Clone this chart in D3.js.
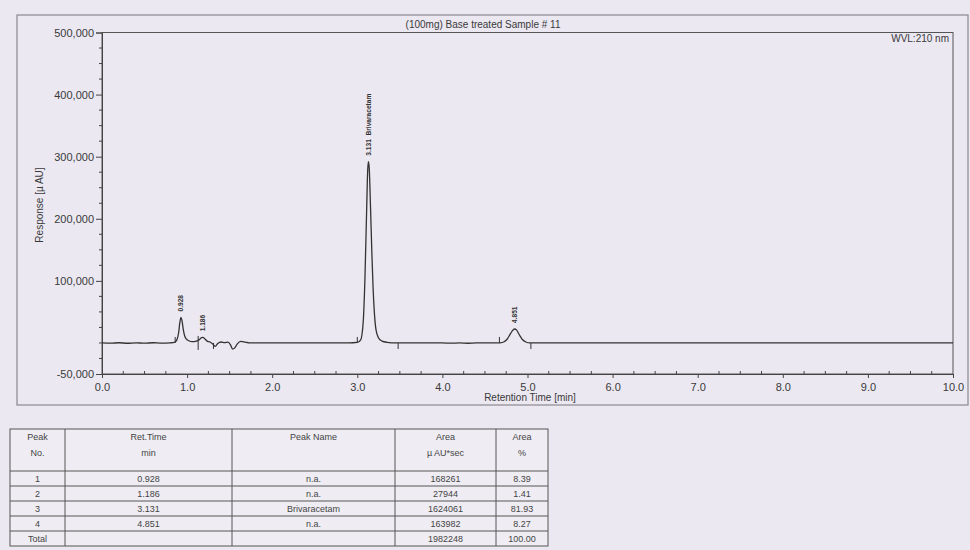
<!DOCTYPE html>
<html>
<head>
<meta charset="utf-8">
<script src="https://cdn.jsdelivr.net/npm/d3@7"></script>
<style>
  body { margin: 0; background: #ebe8f1; }
  svg { display: block; font-family: "Liberation Sans", Arial, sans-serif; }
</style>
</head>
<body>
<script>
// chromatogram trace: [retention time (min), response (uAU)]
var trace = [
  [0.00, 0], [0.10, -400], [0.20, 300], [0.30, -500], [0.40, 200], [0.50, -400],
  [0.60, 300], [0.70, -300], [0.80, 200], [0.85, 800], [0.88, 5000], [0.90, 16000],
  [0.915, 33000], [0.928, 41000], [0.94, 36000], [0.955, 22000], [0.97, 12000],
  [0.99, 6500], [1.02, 3500], [1.06, 2000], [1.10, 2500], [1.14, 5000], [1.17, 8500],
  [1.186, 9000], [1.21, 6500], [1.24, 2500], [1.27, 1500], [1.30, -1500], [1.33, -5500],
  [1.36, -1000], [1.40, 1500], [1.44, 500], [1.48, 1200], [1.51, -3000], [1.535, -10000],
  [1.56, -8000], [1.59, -1500], [1.63, 2500], [1.68, 1500], [1.73, 0], [2.00, 0],
  [2.50, 0], [2.90, 0], [3.00, 800], [3.04, 5000], [3.07, 35000], [3.09, 105000],
  [3.11, 215000], [3.122, 278000], [3.131, 292000], [3.14, 282000], [3.155, 220000],
  [3.17, 150000], [3.185, 90000], [3.20, 50000], [3.22, 21000], [3.25, 8000],
  [3.29, 3000], [3.35, 1000], [3.45, 0], [4.00, 0], [4.10, -400], [4.20, 0],
  [4.30, -500], [4.40, 0], [4.60, 0], [4.68, 200], [4.72, 1500], [4.76, 6000],
  [4.80, 15000], [4.83, 21000], [4.851, 22500], [4.87, 21000], [4.90, 14000],
  [4.94, 5500], [4.98, 1500], [5.03, 0], [6.00, 0], [8.00, 0], [10.00, 0]
];

// integrated peaks (label positions)
var peakTimes = [0.928, 1.186, 3.131, 4.851];
var peakHeights = [41000, 9000, 292000, 22500];
var peakLabels = ["0.928", "1.186", "3.131  Brivaracetam", "4.851"];

// integration delimiter marks: time, +1 up / -1 down, 0 crossing
var delimTimes = [0.86, 1.13, 1.31, 3.00, 3.48, 4.67, 5.04];
var delimDirs = [1, 0, -1, 1, -1, 1, -1];

var yTicks = [-50000, 100000, 200000, 300000, 400000, 500000];
var xTicks = [0, 1, 2, 3, 4, 5, 6, 7, 8, 9, 10];

// results table
var tableHead1 = ["Peak", "Ret.Time", "Peak Name", "Area", "Area"];
var tableHead2 = ["No.", "min", "", "\u00b5 AU*sec", "%"];
var peakNo = ["1", "2", "3", "4", "Total"];
var retTime = ["0.928", "1.186", "3.131", "4.851", ""];
var peakName = ["n.a.", "n.a.", "Brivaracetam", "n.a.", ""];
var area = ["168261", "27944", "1624061", "163982", "1982248"];
var areaPct = ["8.39", "1.41", "81.93", "8.27", "100.00"];

var W = 970, H = 550;
var ink = "#3a3a3a";

var svg = d3.select("body").append("svg")
    .attr("width", W)
    .attr("height", H);

svg.append("rect").attr("width", W).attr("height", H).attr("fill", "#ebe8f1");

// outer frame of the report block
svg.append("rect")
    .attr("x", 17).attr("y", 15)
    .attr("width", 951).attr("height", 390)
    .attr("fill", "none").attr("stroke", "#8a8790").attr("stroke-width", 1.2);

svg.append("text")
    .attr("x", 483).attr("y", 28)
    .attr("text-anchor", "middle")
    .attr("font-size", 10)
    .attr("fill", ink)
    .text("(100mg) Base treated Sample # 11");

var x = d3.scaleLinear().domain([0, 10]).range([102, 953]);
var y = d3.scaleLinear().domain([-50000, 500000]).range([374, 32.5]);

// plot box
svg.append("rect")
    .attr("x", x(0)).attr("y", y(500000))
    .attr("width", x(10) - x(0)).attr("height", y(-50000) - y(500000))
    .attr("fill", "none").attr("stroke", "#555").attr("stroke-width", 1);

// y axis
var yAxis = d3.axisLeft(y)
    .tickValues(yTicks)
    .tickSize(6)
    .tickPadding(2)
    .tickFormat(function(d) { return d3.format(",")(d).replace("\u2212", "-"); });

var gy = svg.append("g")
    .attr("transform", "translate(" + x(0) + ",0)")
    .call(yAxis);
gy.select(".domain").attr("stroke", "#444");
gy.selectAll(".tick line").attr("stroke", "#444");
gy.selectAll("text").attr("font-size", 11).attr("fill", ink)
    .attr("font-family", "Liberation Sans, Arial, sans-serif");

// y minor ticks
var yMinor = d3.range(-50000, 500001, 25000).filter(function(v) { return yTicks.indexOf(v) < 0; });
svg.append("g").selectAll("line")
    .data(yMinor)
  .enter().append("line")
    .attr("x1", x(0) - 3).attr("x2", x(0) + 1)
    .attr("y1", function(d) { return y(d); })
    .attr("y2", function(d) { return y(d); })
    .attr("stroke", "#444");

// x axis
var xAxis = d3.axisBottom(x)
    .tickValues(xTicks)
    .tickSize(4)
    .tickPadding(5)
    .tickFormat(d3.format(".1f"));

var gx = svg.append("g")
    .attr("transform", "translate(0," + y(-50000) + ")")
    .call(xAxis);
gx.select(".domain").attr("stroke", "#444");
gx.selectAll(".tick line").attr("stroke", "#444");
gx.selectAll("text").attr("font-size", 11).attr("fill", ink)
    .attr("font-family", "Liberation Sans, Arial, sans-serif");

// x minor ticks
var xMinor = d3.range(0.25, 10, 0.25).filter(function(v) { return Math.abs(v - Math.round(v)) > 0.01; });
svg.append("g").selectAll("line")
    .data(xMinor)
  .enter().append("line")
    .attr("x1", function(d) { return x(d); })
    .attr("x2", function(d) { return x(d); })
    .attr("y1", y(-50000) - 3).attr("y2", y(-50000) + 1)
    .attr("stroke", "#444");

// axis titles
svg.append("text")
    .attr("transform", "translate(43," + 205 + ") rotate(-90)")
    .attr("text-anchor", "middle")
    .attr("font-size", 10)
    .attr("fill", ink)
    .text("Response [\u00b5 AU]");

svg.append("text")
    .attr("x", 530).attr("y", 401)
    .attr("text-anchor", "middle")
    .attr("font-size", 10)
    .attr("fill", ink)
    .text("Retention Time [min]");

svg.append("text")
    .attr("x", 949).attr("y", 42)
    .attr("text-anchor", "end")
    .attr("font-size", 10)
    .attr("fill", ink)
    .text("WVL:210 nm");

// trace
var line = d3.line()
    .x(function(d) { return x(d[0]); })
    .y(function(d) { return y(d[1]); })
    .curve(d3.curveMonotoneX);

svg.append("path")
    .datum(trace)
    .attr("d", line)
    .attr("fill", "none")
    .attr("stroke", "#333")
    .attr("stroke-width", 1.3);

// delimiter marks
svg.append("g").selectAll("line")
    .data(delimTimes)
  .enter().append("line")
    .attr("x1", function(d) { return x(d); })
    .attr("x2", function(d) { return x(d); })
    .attr("y1", function(d, i) { return delimDirs[i] === 0 ? y(0) - 7 : y(0); })
    .attr("y2", function(d, i) { return delimDirs[i] === 0 ? y(0) + 7 : y(0) - delimDirs[i] * 6; })
    .attr("stroke", "#333")
    .attr("stroke-width", 1);

// peak labels
svg.append("g").selectAll("text")
    .data(peakTimes)
  .enter().append("text")
    .attr("transform", function(d, i) {
      return "translate(" + (x(d) + 2.5) + "," + (y(peakHeights[i]) - 6) + ") rotate(-90)";
    })
    .attr("font-size", 6.6)
    .attr("font-weight", "bold")
    .attr("fill", "#333")
    .style("white-space", "pre")
    .text(function(d, i) { return peakLabels[i]; });

// table
var colX = [10, 65, 232, 395, 496, 548];
var tableTop = 429, headBottom = 471, rowH = 15;
var rowsY = d3.range(peakNo.length + 1).map(function(i) { return headBottom + i * rowH; });
var tbl = svg.append("g").attr("stroke", "#555").attr("stroke-width", 1);

tbl.append("rect")
    .attr("x", colX[0]).attr("y", tableTop)
    .attr("width", colX[5] - colX[0]).attr("height", rowsY[rowsY.length - 1] - tableTop)
    .attr("fill", "#efedf3");
colX.slice(1, 5).forEach(function(cx) {
  tbl.append("line").attr("x1", cx).attr("x2", cx)
      .attr("y1", tableTop).attr("y2", rowsY[rowsY.length - 1]);
});
rowsY.slice(0, rowsY.length - 1).forEach(function(ry) {
  tbl.append("line").attr("x1", colX[0]).attr("x2", colX[5])
      .attr("y1", ry).attr("y2", ry);
});

var colMid = d3.range(5).map(function(i) { return (colX[i] + colX[i + 1]) / 2; });
var tText = svg.append("g")
    .attr("font-size", 9)
    .attr("fill", "#444")
    .attr("text-anchor", "middle");

[tableHead1, tableHead2].forEach(function(row, r) {
  row.forEach(function(s, c) {
    tText.append("text")
        .attr("x", colMid[c]).attr("y", tableTop + 11 + r * 16)
        .text(s);
  });
});

var cols = [peakNo, retTime, peakName, area, areaPct];
peakNo.forEach(function(d, r) {
  cols.forEach(function(col, c) {
    tText.append("text")
        .attr("x", colMid[c]).attr("y", rowsY[r] + rowH / 2 + 3.2)
        .text(col[r]);
  });
});
</script>
</body>
</html>
